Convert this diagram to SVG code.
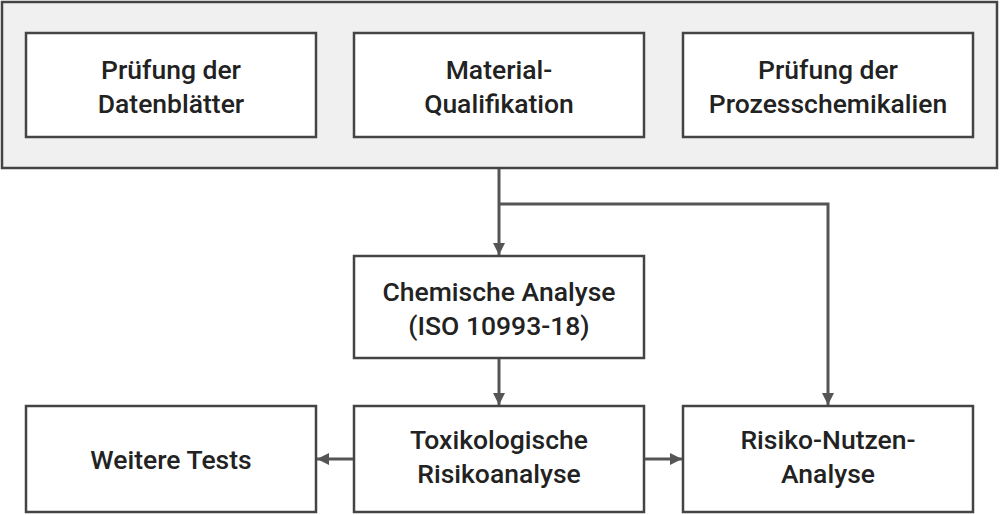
<svg xmlns="http://www.w3.org/2000/svg" width="1000" height="515" viewBox="0 0 1000 515">
<style>
.b{fill:#fff;stroke:#444;stroke-width:2.5}
.t{font-family:Roboto,"Liberation Sans",sans-serif;font-weight:500;font-size:26.5px;fill:#222;text-anchor:middle}
.c{fill:none;stroke:#555;stroke-width:3}
</style>
<defs><marker id="a" viewBox="0 0 10 10" refX="10" refY="5" markerWidth="4" markerHeight="4" orient="auto"><path d="M0,0L10,5L0,10z" fill="#555"/></marker></defs>
<rect x="2" y="2" width="995" height="166" fill="#f0f0f0" stroke="#444" stroke-width="2.5"/>
<g id="n1"><rect class="b" x="26" y="33" width="290" height="104"/><text class="t" x="171" y="79">Prüfung der</text><text class="t" x="171" y="113">Datenblätter</text></g>
<g id="n2"><rect class="b" x="354" y="33" width="290" height="104"/><text class="t" x="499" y="79">Material-</text><text class="t" x="499" y="113">Qualifikation</text></g>
<g id="n3"><rect class="b" x="683" y="33" width="290" height="104"/><text class="t" x="828" y="79">Prüfung der</text><text class="t" x="828" y="113">Prozesschemikalien</text></g>
<g id="n4"><rect class="b" x="354" y="256" width="290" height="102"/><text class="t" x="499" y="301">Chemische Analyse</text><text class="t" x="499" y="335">(ISO 10993-18)</text></g>
<g id="n5"><rect class="b" x="26" y="406" width="290" height="106"/><text class="t" x="171" y="469">Weitere Tests</text></g>
<g id="n6"><rect class="b" x="354" y="406" width="290" height="106"/><text class="t" x="499" y="449">Toxikologische</text><text class="t" x="499" y="483">Risikoanalyse</text></g>
<g id="n7"><rect class="b" x="683" y="406" width="290" height="106"/><text class="t" x="828" y="449">Risiko-Nutzen-</text><text class="t" x="828" y="483">Analyse</text></g>
<g id="connectors">
<path class="c" d="M499,169V255" marker-end="url(#a)"/>
<path class="c" d="M499,204H828V405" marker-end="url(#a)"/>
<path class="c" d="M499,359V405" marker-end="url(#a)"/>
<path class="c" d="M353,459H317" marker-end="url(#a)"/>
<path class="c" d="M645,459H682" marker-end="url(#a)"/>
</g>
</svg>
